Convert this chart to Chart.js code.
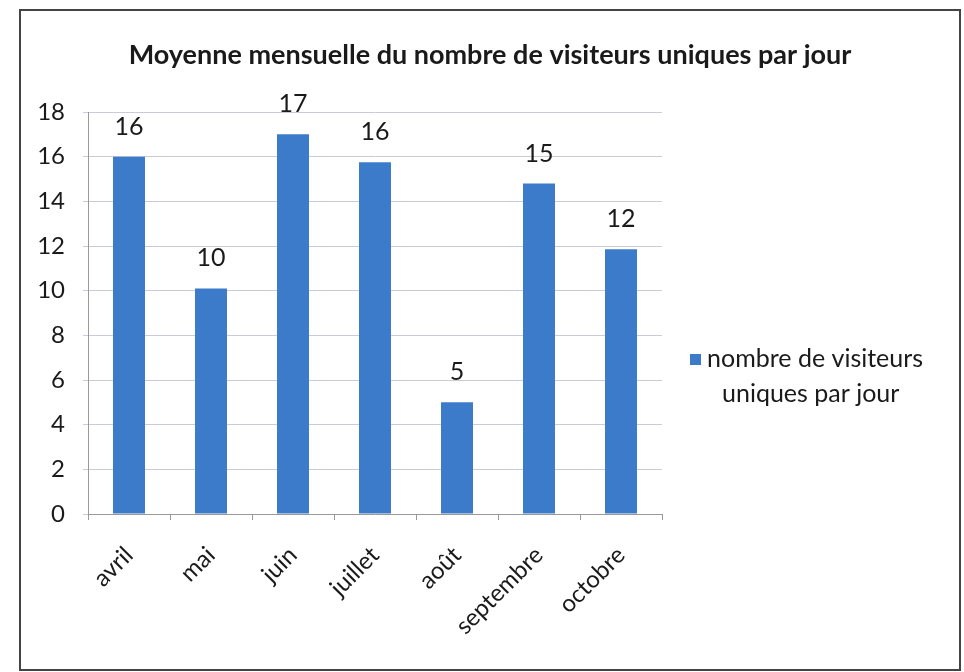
<!DOCTYPE html>
<html>
<head>
<meta charset="utf-8">
<script src="https://cdn.jsdelivr.net/npm/chart.js@4.4.1/dist/chart.umd.min.js"></script>
<style>
  html, body { margin: 0; padding: 0; background: #fff; }
  #frame {
    position: absolute; left: 19px; top: 9px;
    width: 942px; height: 662px;
    box-sizing: border-box; border: 2px solid #444;
  }
  #chart { display: block; }
</style>
</head>
<body>
<div id="frame"><canvas id="chart" width="938" height="658"></canvas></div>
<script>
const months = ['avril', 'mai', 'juin', 'juillet', 'août', 'septembre', 'octobre'];
const visitors = [16, 10.1, 17, 15.75, 5, 14.8, 11.85];
const yTicks = [0, 2, 4, 6, 8, 10, 12, 14, 16, 18];
const seriesName = 'nombre de visiteurs uniques par jour';
const legendLines = ['nombre de visiteurs', 'uniques par jour'];
const chartTitle = 'Moyenne mensuelle du nombre de visiteurs uniques par jour';

const barColor = '#3c7bca';
const textColor = '#1a1a1a';
const fontFamily = 'Lato, "Open Sans", sans-serif';

// title centred on the whole frame, not only the plot
const frameTitle = {
    id: 'frameTitle',
    afterDraw(chart) {
        const ctx = chart.ctx;
        ctx.save();
        ctx.font = 'bold 27px ' + fontFamily;
        ctx.fillStyle = textColor;
        ctx.textAlign = 'center';
        ctx.textBaseline = 'middle';
        ctx.fillText(chartTitle, chart.width / 2, 44);
        ctx.restore();
    }
};

// labels above each bar (Excel "outside end")
const barLabels = {
    id: 'barLabels',
    afterDatasetsDraw(chart) {
        const ctx = chart.ctx;
        const meta = chart.getDatasetMeta(0);
        ctx.save();
        ctx.font = '25px ' + fontFamily;
        ctx.fillStyle = textColor;
        ctx.textAlign = 'center';
        ctx.textBaseline = 'middle';
        meta.data.forEach((bar, i) => {
            ctx.fillText(Math.round(visitors[i]), bar.x, bar.y - 30);
        });
        ctx.restore();
    }
};

// legend on the right, wrapped on two lines
const sideLegend = {
    id: 'sideLegend',
    afterDraw(chart) {
        const ctx = chart.ctx;
        const x = chart.chartArea.right + 28;
        const y = 343;
        ctx.save();
        ctx.fillStyle = barColor;
        ctx.fillRect(x, y, 11, 11);
        ctx.fillStyle = textColor;
        ctx.font = '25px ' + fontFamily;
        ctx.textBaseline = 'middle';
        ctx.fillText(legendLines[0], x + 17, y + 5);
        ctx.fillText(legendLines[1], x + 32, y + 40);
        ctx.restore();
    }
};

new Chart(document.getElementById('chart'), {
    type: 'bar',
    data: {
        labels: months,
        datasets: [{
            label: seriesName,
            data: visitors,
            backgroundColor: barColor,
            barPercentage: 0.39,
            categoryPercentage: 1
        }]
    },
    options: {
        responsive: false,
        animation: false,
        layout: { padding: { left: 0, right: 297, top: 101, bottom: 0 } },
        plugins: {
            legend: { display: false },
            tooltip: { enabled: false },
            title: { display: false }
        },
        scales: {
            x: {
                afterFit(scale) { scale.height = 155; },
                grid: {
                    drawOnChartArea: false,
                    drawTicks: true,
                    tickLength: 6,
                    color: '#999'
                },
                border: { color: '#999' },
                ticks: {
                    color: textColor,
                    font: { family: fontFamily, size: 24 },
                    minRotation: 45,
                    maxRotation: 45,
                    padding: 21
                }
            },
            y: {
                min: 0,
                max: 18,
                afterFit(scale) { scale.width = 67; },
                afterBuildTicks(scale) { scale.ticks = yTicks.map(v => ({ value: v })); },
                grid: { color: '#c9ccd6', tickLength: 5 },
                border: { color: '#999' },
                ticks: {
                    color: textColor,
                    font: { family: fontFamily, size: 24 },
                    padding: 18
                }
            }
        }
    },
    plugins: [frameTitle, barLabels, sideLegend]
});
</script>
</body>
</html>
